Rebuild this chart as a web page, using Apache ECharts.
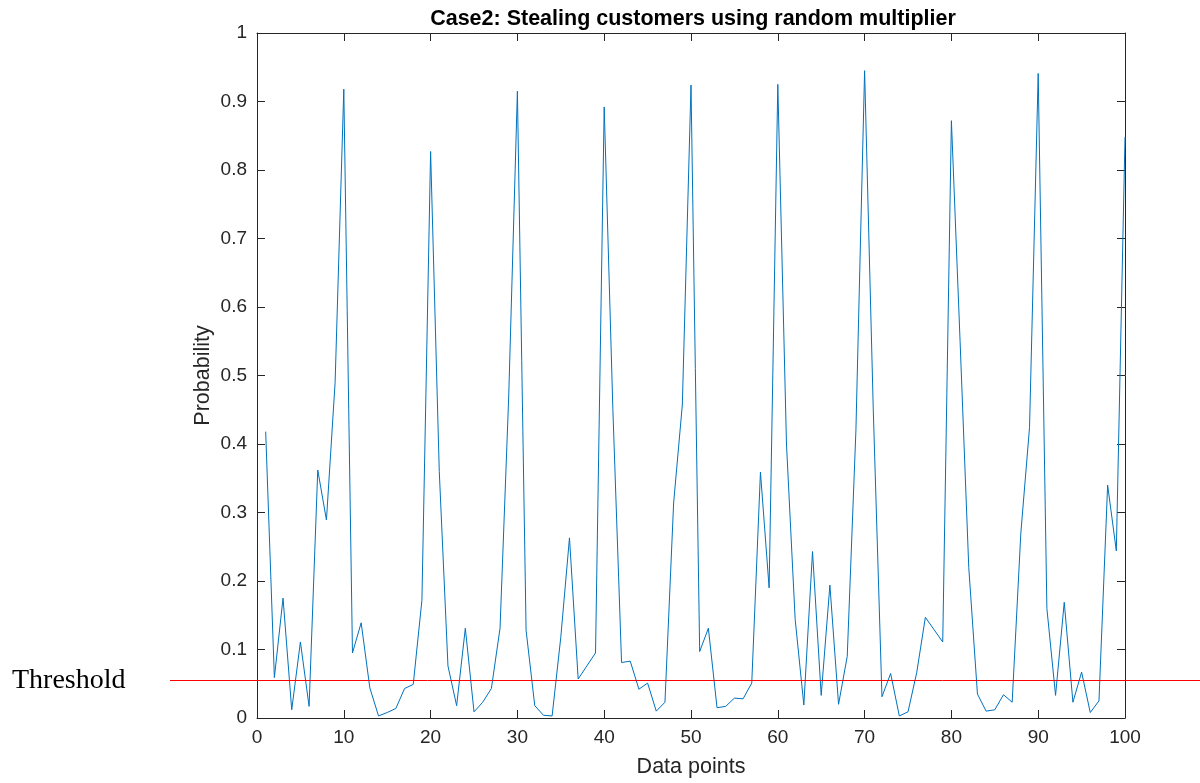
<!DOCTYPE html>
<html>
<head>
<meta charset="utf-8">
<script src="https://cdn.jsdelivr.net/npm/echarts@6/dist/echarts.min.js"></script>
<style>
  html, body { margin: 0; padding: 0; background: #fff; }
  #chart { width: 1200px; height: 783px; }
</style>
</head>
<body>
<div id="chart"></div>
<script>
// Data point index (1..100) and the predicted probability for each customer sample
const pointIds = Array.from({ length: 100 }, (_, i) => i + 1);
const probability = [
  0.418, 0.059, 0.175, 0.012, 0.111, 0.017, 0.362, 0.289, 0.490, 0.918,
  0.095, 0.139, 0.044, 0.003, 0.008, 0.014, 0.043, 0.049, 0.172, 0.827,
  0.360, 0.076, 0.018, 0.131, 0.009, 0.023, 0.043, 0.131, 0.470, 0.915,
  0.128, 0.018, 0.004, 0.003, 0.118, 0.263, 0.057, 0.076, 0.095, 0.892,
  0.450, 0.081, 0.083, 0.042, 0.051, 0.010, 0.023, 0.314, 0.457, 0.924,
  0.097, 0.131, 0.015, 0.017, 0.029, 0.028, 0.051, 0.359, 0.190, 0.925,
  0.400, 0.144, 0.019, 0.243, 0.033, 0.194, 0.020, 0.090, 0.420, 0.945,
  0.450, 0.031, 0.065, 0.003, 0.009, 0.066, 0.147, 0.129, 0.111, 0.872,
  0.550, 0.220, 0.035, 0.010, 0.012, 0.034, 0.023, 0.270, 0.424, 0.941,
  0.160, 0.033, 0.169, 0.023, 0.067, 0.008, 0.025, 0.340, 0.244, 0.848
];
const threshold = 0.054;

const xTicks = [0, 10, 20, 30, 40, 50, 60, 70, 80, 90, 100];
const yTicks = [0, 0.1, 0.2, 0.3, 0.4, 0.5, 0.6, 0.7, 0.8, 0.9, 1];

const axisColor = '#262626';
const sansFamily = 'Liberation Sans, Arial, Helvetica, sans-serif';
const tickFont = { color: axisColor, fontSize: 19, fontFamily: sansFamily };
const nameFont = { color: axisColor, fontSize: 21.5, fontFamily: sansFamily };

const chart = echarts.init(document.getElementById('chart'), null, { renderer: 'canvas' });

// Axes on all four sides form the plot box; only bottom/left carry labels
function boxAxis(isX, position, showLabels) {
  const ticks = isX ? xTicks : yTicks;
  return {
    type: 'value',
    position: position,
    min: ticks[0],
    max: ticks[ticks.length - 1],
    interval: ticks[1] - ticks[0],
    axisLine: { show: true, onZero: false, lineStyle: { color: axisColor, width: 1 } },
    axisTick: { show: true, inside: true, length: 8, lineStyle: { color: axisColor, width: 1 } },
    axisLabel: Object.assign({ show: showLabels, margin: 10 }, tickFont),
    splitLine: { show: false }
  };
}

const xBottom = Object.assign(boxAxis(true, 'bottom', true), {
  name: 'Data points', nameLocation: 'middle', nameGap: 38, nameMoveOverlap: false,
  nameTextStyle: nameFont
});
const yLeft = Object.assign(boxAxis(false, 'left', true), {
  name: 'Probability', nameLocation: 'middle', nameGap: 43, nameMoveOverlap: false,
  nameTextStyle: nameFont
});

chart.setOption({
  animation: false,
  backgroundColor: '#ffffff',
  title: {
    text: 'Case2: Stealing customers using random multiplier',
    left: 688, top: 3, textAlign: 'center',
    textStyle: { color: '#000', fontSize: 21.5, fontWeight: 'bold', fontFamily: sansFamily }
  },
  grid: { left: 257, right: 75, top: 33, bottom: 65, containLabel: false },
  xAxis: [xBottom, boxAxis(true, 'top', false)],
  yAxis: [yLeft, boxAxis(false, 'right', false)],
  series: [{
    type: 'line',
    xAxisIndex: 0, yAxisIndex: 0,
    data: pointIds.map((id, i) => [id, probability[i]]),
    showSymbol: false,
    lineStyle: { color: '#0072BD', width: 1 },
    itemStyle: { color: '#0072BD' }
  }]
});

// Threshold line runs past the plot box into the left margin, so it is drawn as a graphic;
// snapped to the pixel grid so the 1px stroke stays crisp
const yPix = Math.round(chart.convertToPixel({ yAxisIndex: 0 }, threshold)) - 0.5;
chart.setOption({
  graphic: [
    {
      type: 'line',
      shape: { x1: 170, y1: yPix, x2: 1200, y2: yPix },
      style: { stroke: '#ff0000', lineWidth: 1 },
      z: 10
    },
    {
      type: 'text',
      x: 12, y: yPix,
      style: {
        text: 'Threshold', fill: '#000',
        font: '28px "Liberation Serif", "Times New Roman", serif',
        verticalAlign: 'middle'
      }
    }
  ]
});
</script>
</body>
</html>
